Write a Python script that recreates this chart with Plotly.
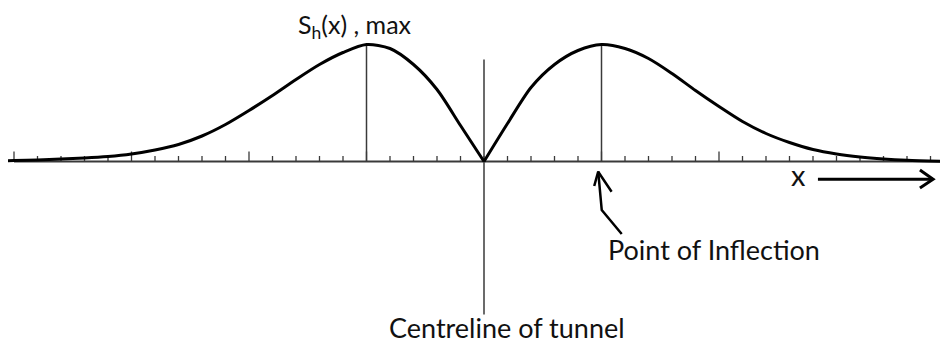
import plotly.graph_objects as go

# ---- data (x in tick units from tunnel centreline, settlement height in drawing units) ----
left_x = [-20.3, -20, -19, -18, -17, -16, -15, -14, -13, -12, -11, -10, -9, -8, -7, -6, -5, -4, -3, -2, -1, 0]
left_h = [0.7, 1, 1.5, 2.5, 3.5, 5, 7.5, 11.5, 17, 25.5, 37, 51, 66, 82, 97, 109, 117, 113, 97, 72, 36, 0]
right_x = [0, 1, 2, 3, 4, 5, 6, 7, 8, 9, 10, 11, 12, 13, 14, 15, 16, 17, 18, 19.7]
right_h = [0, 38, 74, 97, 111, 117, 113, 103, 88, 71, 55, 40, 28, 19, 12, 7.5, 4.5, 2.5, 1.2, 0]

tick_positions = list(range(-20, 20))
major_ticks = [-20, -15, -10, -5, 5, 10]
peak_x = [-5, 5]
peak_h = 117

label_smax = "S<sub>h</sub>(x) , max"
label_inflection = "Point of Inflection"
label_centre = "Centreline of tunnel"
label_x = "x"

INK = "#000000"
LINE = "#3a3a3a"
TXT = "#111111"
FONT = "Lato"

# page body has an 8px margin: figure drawn 8px right/down of page origin
W, H = 940, 334
UNIT = 23.5           # px per tick
CX = 484 - 8          # centreline x in figure px
BY = 161.5 - 8        # baseline y in figure px

fig = go.Figure()

# axis line
fig.add_trace(go.Scatter(x=[-20, 19.8], y=[0, 0], mode="lines",
                         line=dict(color=LINE, width=2), hoverinfo="skip"))

# ticks
tx, ty = [], []
for t in tick_positions:
    h = 10 if t in major_ticks else 5.5
    tx += [t, t, None]
    ty += [0, h, None]
fig.add_trace(go.Scatter(x=tx, y=ty, mode="lines",
                         line=dict(color=LINE, width=1.3), hoverinfo="skip"))

# vertical lines at max settlement points
vx, vy = [], []
for p in peak_x:
    vx += [p, p, None]
    vy += [0, peak_h, None]
fig.add_trace(go.Scatter(x=vx, y=vy, mode="lines",
                         line=dict(color=LINE, width=1.5), hoverinfo="skip"))

# centreline
fig.add_trace(go.Scatter(x=[0, 0], y=[-153, 102], mode="lines",
                         line=dict(color=LINE, width=1.5), hoverinfo="skip"))

# settlement curves
fig.add_trace(go.Scatter(x=left_x, y=left_h, mode="lines",
                         line=dict(color=INK, width=3, shape="spline", smoothing=0.8),
                         hoverinfo="skip"))
fig.add_trace(go.Scatter(x=right_x, y=right_h, mode="lines",
                         line=dict(color=INK, width=3, shape="spline", smoothing=0.8),
                         hoverinfo="skip"))

# x-direction arrow
arrow_x = [14.21, 19.11, None, 18.55, 19.11, 18.55]
arrow_y = [-17.8, -17.8, None, -8.5, -17.8, -26.5]
fig.add_trace(go.Scatter(x=arrow_x, y=arrow_y, mode="lines",
                         line=dict(color=INK, width=3), hoverinfo="skip"))

# hand-drawn arrow to point of inflection
hand_x = [5.86, 5.01, 4.86, None, 4.69, 4.86, 5.43]
hand_y = [-72.5, -48.5, -10.2, None, -24.5, -10.2, -30.2]
fig.add_trace(go.Scatter(x=hand_x, y=hand_y, mode="lines",
                         line=dict(color=INK, width=2.5), hoverinfo="skip"))

ann = [
    dict(x=-5.5, y=136, text=label_smax, xanchor="center", yanchor="middle", size=25),
    dict(x=5.2, y=-87.5, text=label_inflection, xanchor="left", yanchor="middle", size=27),
    dict(x=-4.13, y=-166, text=label_centre, xanchor="left", yanchor="middle", size=27),
    dict(x=13.4, y=-13, text=label_x, xanchor="center", yanchor="middle", size=29),
]
for a in ann:
    fig.add_annotation(x=a["x"], y=a["y"], text=a["text"], showarrow=False,
                       xanchor=a["xanchor"], yanchor=a["yanchor"],
                       font=dict(family=FONT, size=a["size"], color=TXT))

fig.update_layout(
    width=W, height=H,
    margin=dict(l=0, r=0, t=0, b=0),
    paper_bgcolor="white", plot_bgcolor="white",
    showlegend=False,
    xaxis=dict(range=[-CX / UNIT, (W - CX) / UNIT], visible=False, fixedrange=True),
    yaxis=dict(range=[-(H - BY), BY], visible=False, fixedrange=True),
)

fig.write_html("out.html")
